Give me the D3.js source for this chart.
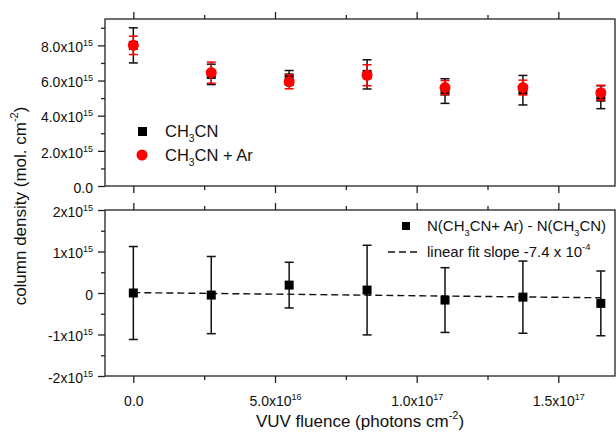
<!DOCTYPE html>
<html>
<head>
<meta charset="utf-8">
<script src="https://cdn.jsdelivr.net/npm/d3@7"></script>
<style>
  body { margin: 0; background: #fff; }
  svg { font-family: "Liberation Sans", Arial, sans-serif; }
</style>
</head>
<body>
<svg id="chart" width="616" height="432"></svg>
<script>
// fluence values (photons cm-2)
var fluence = [0, 2.75e16, 5.5e16, 8.25e16, 1.1e17, 1.375e17, 1.65e17];

// top panel - column densities
var pureN   = [8.0e15, 6.35e15, 6.15e15, 6.35e15, 5.4e15, 5.45e15, 5.05e15];
var pureErr = [1.0e15, 0.58e15, 0.42e15, 0.83e15, 0.7e15, 0.84e15, 0.65e15];
var arN     = [8.0e15, 6.45e15, 5.93e15, 6.3e15, 5.6e15, 5.6e15, 5.31e15];
var arErr   = [0.52e15, 0.6e15, 0.4e15, 0.6e15, 0.4e15, 0.42e15, 0.42e15];

// bottom panel - difference
var diffN   = [0, -0.05e15, 0.19e15, 0.07e15, -0.17e15, -0.1e15, -0.25e15];
var diffErr = [1.12e15, 0.93e15, 0.55e15, 1.08e15, 0.78e15, 0.87e15, 0.78e15];

// linear fit end points
var fitX = [0, 1.65e17];
var fitY = [0.01e15, -0.115e15];

// ticks and labels ("mantissa|exponent")
var xTicks = [0, 5e16, 1e17, 1.5e17];
var xLabels = ["0.0", "5.0x10|16", "1.0x10|17", "1.5x10|17"];
var xMinor = [2.5e16, 7.5e16, 1.25e17];
var topTicks = [0, 2e15, 4e15, 6e15, 8e15];
var topLabels = ["0.0", "2.0x10|15", "4.0x10|15", "6.0x10|15", "8.0x10|15"];
var topMinor = [1e15, 3e15, 5e15, 7e15, 9e15];
var botTicks = [-2e15, -1e15, 0, 1e15, 2e15];
var botLabels = ["-2x10|15", "-1x10|15", "0", "1x10|15", "2x10|15"];
var botMinor = [-1.5e15, -0.5e15, 0.5e15, 1.5e15];

var svg = d3.select("#chart");

var left = 105, right = 615;
var x = d3.scaleLinear().domain([-1e16, 1.7e17]).range([left, right]);
var yTop = d3.scaleLinear().domain([0, 9.5e15]).range([186, 19]);
var yBot = d3.scaleLinear().domain([-2e15, 2e15]).range([376, 210]);

//write a label with optional superscript into a text element
function supLabel(sel, str, supSize) {
    sel.text(null);
    var parts = str.split("|");
    sel.append("tspan").text(parts[0]);
    if (parts.length > 1) {
        sel.append("tspan")
            .attr("dy", -6)
            .style("font-size", supSize + "px")
            .text(parts[1]);
    }
}

function styleAxis(g) {
    g.select(".domain").remove();
    g.selectAll("line").attr("stroke", "#222").attr("stroke-width", 1.3);
}

function drawPanel(y, yTicks, yLabels, yMinor, showX) {
    var t = y.range()[1], b = y.range()[0];

    // x ticks on top edge
    svg.append("g").attr("transform", "translate(0," + t + ")")
        .call(d3.axisTop(x).tickValues(xTicks).tickSize(7).tickFormat(""))
        .call(styleAxis);
    svg.append("g").attr("transform", "translate(0," + t + ")")
        .call(d3.axisTop(x).tickValues(xMinor).tickSize(4).tickFormat(""))
        .call(styleAxis);

    // x ticks on bottom edge
    var xb = svg.append("g").attr("transform", "translate(0," + b + ")")
        .call(d3.axisBottom(x).tickValues(xTicks).tickSize(7).tickPadding(9)
            .tickFormat(function(d, i) { return showX ? xLabels[i] : ""; }))
        .call(styleAxis);
    svg.append("g").attr("transform", "translate(0," + b + ")")
        .call(d3.axisBottom(x).tickValues(xMinor).tickSize(4).tickFormat(""))
        .call(styleAxis);
    if (showX) {
        xb.selectAll("text")
            .style("font-size", "14px").attr("fill", "#111").attr("dy", "1em")
            .each(function(d, i) { supLabel(d3.select(this), xLabels[i], 9); });
    }

    // y ticks on left
    var ya = svg.append("g").attr("transform", "translate(" + left + ",0)")
        .call(d3.axisLeft(y).tickValues(yTicks).tickSize(7).tickPadding(5)
            .tickFormat(function(d, i) { return yLabels[i]; }))
        .call(styleAxis);
    svg.append("g").attr("transform", "translate(" + left + ",0)")
        .call(d3.axisLeft(y).tickValues(yMinor).tickSize(4).tickFormat(""))
        .call(styleAxis);
    ya.selectAll("text")
        .style("font-size", "14px").attr("fill", "#111").attr("dy", "0.45em")
        .each(function(d, i) { supLabel(d3.select(this), yLabels[i], 9); });

    // frame
    svg.append("rect")
        .attr("x", left).attr("y", t)
        .attr("width", right - left).attr("height", b - t)
        .attr("fill", "none").attr("stroke", "#222").attr("stroke-width", 1.3);
}

drawPanel(yTop, topTicks, topLabels, topMinor, false);
drawPanel(yBot, botTicks, botLabels, botMinor, true);

//error bars
function errBars(y, vals, errs, color, cap) {
    var g = svg.append("g").attr("stroke", color).attr("stroke-width", 1.5);
    g.selectAll("line.v").data(fluence).enter().append("line")
        .attr("x1", function(d) { return x(d); }).attr("x2", function(d) { return x(d); })
        .attr("y1", function(d, i) { return y(vals[i] + errs[i]); })
        .attr("y2", function(d, i) { return y(vals[i] - errs[i]); });
    [1, -1].forEach(function(s) {
        g.selectAll(null).data(fluence).enter().append("line")
            .attr("x1", function(d) { return x(d) - cap; }).attr("x2", function(d) { return x(d) + cap; })
            .attr("y1", function(d, i) { return y(vals[i] + s * errs[i]); })
            .attr("y2", function(d, i) { return y(vals[i] + s * errs[i]); });
    });
}

function squares(y, vals, color, size) {
    svg.append("g").selectAll("rect").data(fluence).enter().append("rect")
        .attr("x", function(d) { return x(d) - size / 2; })
        .attr("y", function(d, i) { return y(vals[i]) - size / 2; })
        .attr("width", size).attr("height", size)
        .attr("fill", color);
}

// top panel series
errBars(yTop, pureN, pureErr, "#111", 4.5);
squares(yTop, pureN, "#000", 9);
errBars(yTop, arN, arErr, "#ff0000", 4.5);
svg.append("g").selectAll("circle").data(fluence).enter().append("circle")
    .attr("cx", function(d) { return x(d); })
    .attr("cy", function(d, i) { return yTop(arN[i]); })
    .attr("r", 5.5)
    .attr("fill", "#ff0000");

// bottom panel
var line = d3.line()
    .x(function(d) { return x(d); })
    .y(function(d, i) { return yBot(fitY[i]); });
svg.append("path").datum(fitX)
    .attr("d", line)
    .attr("fill", "none").attr("stroke", "#111").attr("stroke-width", 1.4)
    .attr("stroke-dasharray", "7,4");
errBars(yBot, diffN, diffErr, "#111", 4.5);
squares(yBot, diffN, "#000", 9);

//legends - text with subscripts, shift in px
function chem(sel, parts, size) {
    var shift = Math.round(size * 0.3);
    parts.forEach(function(p) {
        var ts = sel.append("tspan").text(p[0]);
        if (p[1] === "sub") ts.attr("dy", shift).style("font-size", (size * 0.62) + "px");
        else if (p[1] === "back") ts.attr("dy", -shift);
    });
}

svg.append("rect").attr("x", 138).attr("y", 127).attr("width", 9).attr("height", 9).attr("fill", "#000");
chem(svg.append("text").attr("x", 165).attr("y", 137).style("font-size", "16.5px").attr("fill", "#111"),
    [["CH"], ["3", "sub"], ["CN", "back"]], 16.5);
svg.append("circle").attr("cx", 142).attr("cy", 155).attr("r", 5.5).attr("fill", "#ff0000");
chem(svg.append("text").attr("x", 165).attr("y", 161).style("font-size", "16.5px").attr("fill", "#111"),
    [["CH"], ["3", "sub"], ["CN + Ar", "back"]], 16.5);

svg.append("rect").attr("x", 402).attr("y", 222).attr("width", 8).attr("height", 8).attr("fill", "#000");
chem(svg.append("text").attr("x", 427).attr("y", 231).style("font-size", "15px").attr("fill", "#111"),
    [["N(CH"], ["3", "sub"], ["CN+ Ar) - N(CH", "back"], ["3", "sub"], ["CN)", "back"]], 15);
svg.append("line").attr("x1", 388).attr("x2", 420).attr("y1", 252).attr("y2", 252)
    .attr("stroke", "#111").attr("stroke-width", 1.4).attr("stroke-dasharray", "7,4");
var fitText = svg.append("text").attr("x", 427).attr("y", 257).style("font-size", "15px").attr("fill", "#111");
fitText.append("tspan").text("linear fit slope -7.4 x 10");
fitText.append("tspan").attr("dy", -7).style("font-size", "9.5px").text("-4");

//axis titles
var yt = svg.append("text")
    .attr("transform", "translate(26,206) rotate(-90)")
    .attr("text-anchor", "middle")
    .style("font-size", "17px").attr("fill", "#111");
yt.append("tspan").text("column density (mol. cm");
yt.append("tspan").attr("dy", -8).style("font-size", "11px").text("-2");
yt.append("tspan").attr("dy", 8).text(")");

var xt = svg.append("text")
    .attr("x", 360).attr("y", 427)
    .attr("text-anchor", "middle")
    .style("font-size", "17px").attr("fill", "#111");
xt.append("tspan").text("VUV fluence (photons cm");
xt.append("tspan").attr("dy", -8).style("font-size", "11px").text("-2");
xt.append("tspan").attr("dy", 8).text(")");
</script>
</body>
</html>
